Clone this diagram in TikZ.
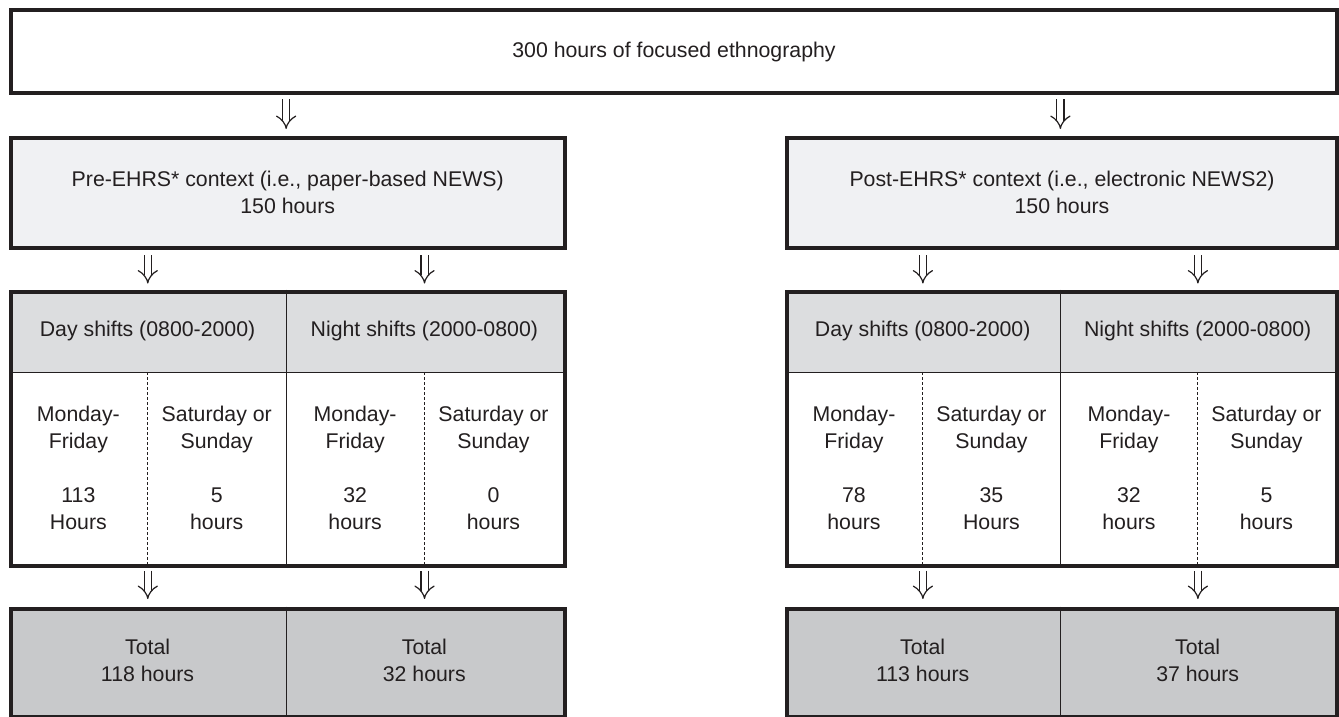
\documentclass[tikz,border=0pt]{standalone}
\usepackage{fontspec}
\setmainfont{Liberation Sans}
\usetikzlibrary{arrows.meta}
\definecolor{ink}{HTML}{231F20}
\definecolor{fillA}{HTML}{F0F1F3}
\definecolor{fillB}{HTML}{DCDDDF}
\definecolor{fillC}{HTML}{C8C9CB}
\begin{document}
\begin{tikzpicture}[x=1pt,y=-1pt,
  every node/.style={font=\fontsize{21.3}{27.2}\selectfont, text=ink, align=center, inner sep=0pt},
  frame/.style={draw=ink, line width=4pt, line join=miter, rectangle, anchor=north west},
  cell/.style={rectangle, anchor=north west, draw=none},
  innerline/.style={draw=ink, line width=1.3pt},
  dashsep/.style={draw=ink, line width=0.9pt, dash pattern=on 3pt off 2pt},
  dbl/.style={draw=ink, double=white, double distance=6pt, line width=1.2pt, -{Implies}}
]
\useasboundingbox (0,0) rectangle (1339,717);

% top box
\node[frame, fill=white, minimum width=1326pt, minimum height=82.5pt] (top) at (9,8.5) {300 hours of focused ethnography};

% context boxes
\node[frame, fill=fillA, minimum width=553.5pt, minimum height=110.5pt] (pre) at (9,135.5) {Pre-EHRS* context (i.e., paper-based NEWS)\\150 hours};
\node[frame, fill=fillA, minimum width=550pt, minimum height=110.5pt] (post) at (785,135.5) {Post-EHRS* context (i.e., electronic NEWS2)\\150 hours};

% ---------- left table ----------
\node[cell, fill=fillB, minimum width=276.75pt, minimum height=82.5pt] (lh1) at (9,289.5) {Day shifts (0800-2000)};
\node[cell, fill=fillB, minimum width=276.75pt, minimum height=82.5pt] (lh2) at (285.75,289.5) {Night shifts (2000-0800)};
\node[cell, fill=white, minimum width=138.375pt, minimum height=191.5pt] (lc1) at (9,372) {Monday-\\Friday\\[27.2pt]113\\Hours};
\node[cell, fill=white, minimum width=138.375pt, minimum height=191.5pt] (lc2) at (147.375,372) {Saturday or\\Sunday\\[27.2pt]5\\hours};
\node[cell, fill=white, minimum width=138.375pt, minimum height=191.5pt] (lc3) at (285.75,372) {Monday-\\Friday\\[27.2pt]32\\hours};
\node[cell, fill=white, minimum width=138.375pt, minimum height=191.5pt] (lc4) at (424.125,372) {Saturday or\\Sunday\\[27.2pt]0\\hours};
\draw[innerline] (lh1.south west) -- (lh2.south east);
\draw[innerline] (lh1.north east) -- (lc2.south east);
\draw[dashsep] (lc1.north east) -- (lc1.south east);
\draw[dashsep] (lc3.north east) -- (lc3.south east);
\node[frame, minimum width=553.5pt, minimum height=274pt] (ltab) at (9,289.5) {};

% ---------- right table ----------
\node[cell, fill=fillB, minimum width=275pt, minimum height=82.5pt] (rh1) at (785,289.5) {Day shifts (0800-2000)};
\node[cell, fill=fillB, minimum width=275pt, minimum height=82.5pt] (rh2) at (1060,289.5) {Night shifts (2000-0800)};
\node[cell, fill=white, minimum width=137.5pt, minimum height=191.5pt] (rc1) at (785,372) {Monday-\\Friday\\[27.2pt]78\\hours};
\node[cell, fill=white, minimum width=137.5pt, minimum height=191.5pt] (rc2) at (922.5,372) {Saturday or\\Sunday\\[27.2pt]35\\Hours};
\node[cell, fill=white, minimum width=137.5pt, minimum height=191.5pt] (rc3) at (1060,372) {Monday-\\Friday\\[27.2pt]32\\hours};
\node[cell, fill=white, minimum width=137.5pt, minimum height=191.5pt] (rc4) at (1197.5,372) {Saturday or\\Sunday\\[27.2pt]5\\hours};
\draw[innerline] (rh1.south west) -- (rh2.south east);
\draw[innerline] (rh1.north east) -- (rc2.south east);
\draw[dashsep] (rc1.north east) -- (rc1.south east);
\draw[dashsep] (rc3.north east) -- (rc3.south east);
\node[frame, minimum width=550pt, minimum height=274pt] (rtab) at (785,289.5) {};

% ---------- totals ----------
\node[cell, fill=fillC, minimum width=276.75pt, minimum height=108pt] (lt1) at (9,606.5) {Total\\118 hours};
\node[cell, fill=fillC, minimum width=276.75pt, minimum height=108pt] (lt2) at (285.75,606.5) {Total\\32 hours};
\draw[innerline] (lt1.north east) -- (lt1.south east);
\node[frame, minimum width=553.5pt, minimum height=108pt] (ltot) at (9,606.5) {};

\node[cell, fill=fillC, minimum width=275pt, minimum height=108pt] (rt1) at (785,606.5) {Total\\113 hours};
\node[cell, fill=fillC, minimum width=275pt, minimum height=108pt] (rt2) at (1060,606.5) {Total\\37 hours};
\draw[innerline] (rt1.north east) -- (rt1.south east);
\node[frame, minimum width=550pt, minimum height=108pt] (rtot) at (785,606.5) {};

% ---------- arrows ----------
\draw[dbl, shorten <=4pt, shorten >=6.5pt] (top.south -| lh1.north east) -- (pre.north -| lh1.north east);
\draw[dbl, shorten <=4pt, shorten >=6.5pt] (top.south -| rh1.north east) -- (post.north -| rh1.north east);

\draw[dbl, shorten <=5pt, shorten >=6pt] (pre.south -| lc1.north east) -- (ltab.north -| lc1.north east);
\draw[dbl, shorten <=5pt, shorten >=6pt] (pre.south -| lc3.north east) -- (ltab.north -| lc3.north east);
\draw[dbl, shorten <=5pt, shorten >=6pt] (post.south -| rc1.north east) -- (rtab.north -| rc1.north east);
\draw[dbl, shorten <=5pt, shorten >=6pt] (post.south -| rc3.north east) -- (rtab.north -| rc3.north east);

\draw[dbl, shorten <=3pt, shorten >=7.5pt] (ltab.south -| lc1.north east) -- (ltot.north -| lc1.north east);
\draw[dbl, shorten <=3pt, shorten >=7.5pt] (ltab.south -| lc3.north east) -- (ltot.north -| lc3.north east);
\draw[dbl, shorten <=3pt, shorten >=7.5pt] (rtab.south -| rc1.north east) -- (rtot.north -| rc1.north east);
\draw[dbl, shorten <=3pt, shorten >=7.5pt] (rtab.south -| rc3.north east) -- (rtot.north -| rc3.north east);
\end{tikzpicture}
\end{document}
